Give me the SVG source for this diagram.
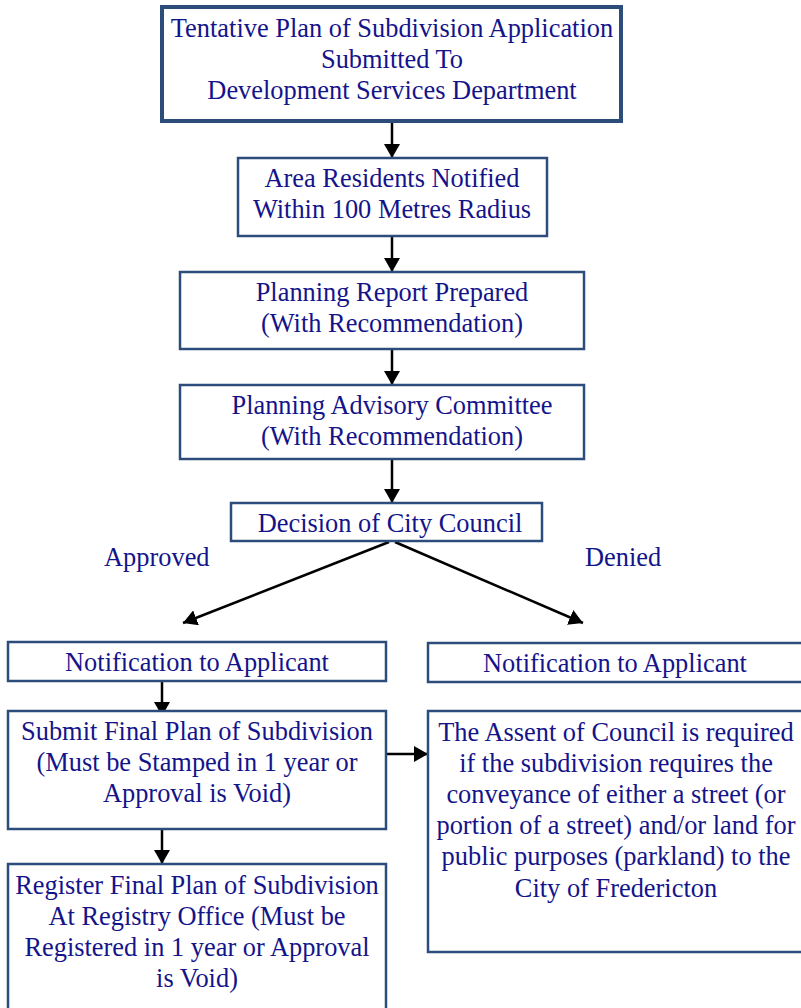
<svg xmlns="http://www.w3.org/2000/svg" width="801" height="1008" viewBox="0 0 801 1008">
<style>
.box{fill:#fff;stroke:#2c4d7c;stroke-width:2.5}
.big{stroke-width:4}
.t{font-family:"Liberation Serif","Times New Roman",serif;font-size:26.4px;fill:#14148a;text-anchor:middle}
.lbl{text-anchor:start}
.c{stroke:#000;stroke-width:2.5;fill:none}
</style>
<defs>
<marker id="ah" viewBox="0 0 14 16" refX="14" refY="8" markerWidth="14" markerHeight="16" markerUnits="userSpaceOnUse" orient="auto">
<path d="M0,0 L14,8 L0,16 Z" fill="#000"/>
</marker>
</defs>
<rect width="801" height="1008" fill="#fff"/>
<g id="connectors">
<line class="c" x1="392" y1="123" x2="392" y2="158" marker-end="url(#ah)"/>
<line class="c" x1="392" y1="236" x2="392" y2="272" marker-end="url(#ah)"/>
<line class="c" x1="392" y1="349" x2="392" y2="385" marker-end="url(#ah)"/>
<line class="c" x1="392" y1="459" x2="392" y2="503" marker-end="url(#ah)"/>
<line class="c" x1="389" y1="542" x2="183" y2="623" marker-end="url(#ah)"/>
<line class="c" x1="395" y1="542" x2="583" y2="623" marker-end="url(#ah)"/>
<line class="c" x1="162" y1="681" x2="162" y2="716" marker-end="url(#ah)"/>
<line class="c" x1="162" y1="829" x2="162" y2="864" marker-end="url(#ah)"/>
<line class="c" x1="387" y1="754" x2="428" y2="754" marker-end="url(#ah)"/>
</g>
<g id="n1">
<rect class="box big" x="162" y="7" width="459" height="114"/>
<text class="t" x="392" y="37">Tentative Plan of Subdivision Application</text>
<text class="t" x="392" y="68">Submitted To</text>
<text class="t" x="392" y="99">Development Services Department</text>
</g>
<g id="n2">
<rect class="box" x="238" y="158" width="309" height="78"/>
<text class="t" x="392" y="187">Area Residents Notified</text>
<text class="t" x="392" y="218">Within 100 Metres Radius</text>
</g>
<g id="n3">
<rect class="box" x="180" y="272" width="404" height="77"/>
<text class="t" x="392" y="301">Planning Report Prepared</text>
<text class="t" x="392" y="332">(With Recommendation)</text>
</g>
<g id="n4">
<rect class="box" x="180" y="385" width="404" height="74"/>
<text class="t" x="392" y="414">Planning Advisory Committee</text>
<text class="t" x="392" y="445">(With Recommendation)</text>
</g>
<g id="n5">
<rect class="box" x="231" y="503" width="311" height="38"/>
<text class="t" x="390" y="532">Decision of City Council</text>
</g>
<g id="labels">
<text class="t lbl" x="104" y="566">Approved</text>
<text class="t lbl" x="585" y="566">Denied</text>
</g>
<g id="n6">
<rect class="box" x="8" y="642" width="378" height="39"/>
<text class="t" x="197" y="671">Notification to Applicant</text>
</g>
<g id="n7">
<rect class="box" x="428" y="643" width="380" height="39"/>
<text class="t" x="615" y="672">Notification to Applicant</text>
</g>
<g id="n8">
<rect class="box" x="8" y="711" width="378" height="118"/>
<text class="t" x="197" y="740">Submit Final Plan of Subdivision</text>
<text class="t" x="197" y="771">(Must be Stamped in 1 year or</text>
<text class="t" x="197" y="802">Approval is Void)</text>
</g>
<g id="n9">
<rect class="box" x="428" y="711" width="380" height="241"/>
<text class="t" x="616" y="741">The Assent of Council is required</text>
<text class="t" x="616" y="772">if the subdivision requires the</text>
<text class="t" x="616" y="803">conveyance of either a street (or</text>
<text class="t" x="616" y="834">portion of a street) and/or land for</text>
<text class="t" x="616" y="865">public purposes (parkland) to the</text>
<text class="t" x="616" y="897">City of Fredericton</text>
</g>
<g id="n10">
<rect class="box" x="8" y="864" width="378" height="160"/>
<text class="t" x="197" y="894">Register Final Plan of Subdivision</text>
<text class="t" x="197" y="925">At Registry Office (Must be</text>
<text class="t" x="197" y="956">Registered in 1 year or Approval</text>
<text class="t" x="197" y="987">is Void)</text>
</g>
</svg>
